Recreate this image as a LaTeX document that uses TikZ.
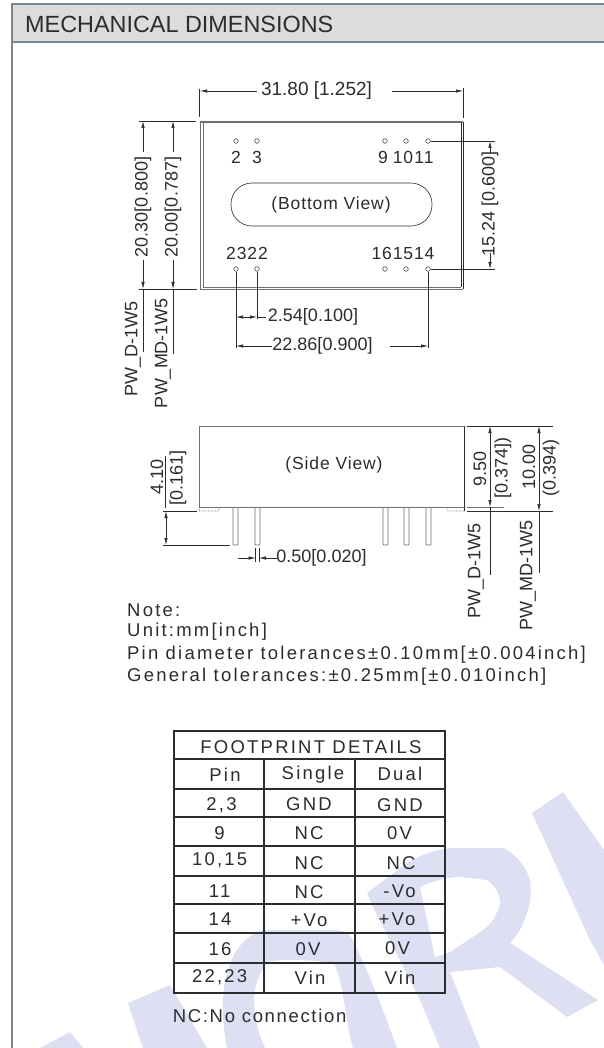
\documentclass[tikz,border=0pt]{standalone}
\usepackage{fontspec}
\setmainfont{Liberation Sans}
\newfontfamily\fontsome[LetterSpace=5]{Liberation Sans}
\newfontfamily\fontwide[LetterSpace=12]{Liberation Sans}
\newfontfamily\fontnine[LetterSpace=9]{Liberation Sans}
\usetikzlibrary{arrows.meta}
\definecolor{ink}{HTML}{2A2D30}
\definecolor{frame}{HTML}{7B858D}
\definecolor{head}{HTML}{DCDCDC}
\definecolor{wm}{HTML}{DFDFF3}
\definecolor{edge}{HTML}{6E7073}
\tikzset{
 x=1pt,y=-1pt,
 dim/.style={draw=ink,line width=0.6pt},
 arr/.style={draw=ink,line width=0.6pt,-{Latex[length=7pt,width=3.4pt]}},
 lab/.style={font=\fontsize{18}{20}\selectfont,text=ink,inner sep=0pt},
 slab/.style={font=\fontsome\fontsize{17.5}{20}\selectfont,text=ink,inner sep=0pt},
 vlab/.style={lab,rotate=90},
 cell/.style={font=\fontwide\fontsize{18.5}{20}\selectfont,text=ink,inner sep=0pt},
 notetext/.style={cell,anchor=west},
 pinhole/.style={circle,draw=ink,line width=0.5pt,minimum size=4.6pt,inner sep=0pt},
 tline/.style={draw=ink,line width=1.1pt},
 wmark/.style={fill=wm,draw=none},
 body/.style={draw=edge,line width=0.8pt},
 pinbody/.style={draw=edge,line width=0.7pt,rounded corners=0.8pt}
}
\begin{document}
\begin{tikzpicture}
\useasboundingbox (0,0) rectangle (604,1048);
\fill[white] (0,0) rectangle (604,1048);
% watermark
\fill[wmark] (532,813) -- (563,792) -- (604,850) -- (604,965) -- (590,940) -- cycle;
\fill[wmark] (367,893) -- (407,863) .. controls (430,850) and (445,848) .. (457,848) -- (503,848) .. controls (518,855) and (526,868) .. (530,880) .. controls (532,895) and (530,905) .. (527,913) .. controls (523,925) and (518,935) .. (510,943) -- (598,1000) -- (567,1017) -- (500,967) -- (450,972) -- (480,1048) -- (440,1048) -- (420,1000) -- (373,907) -- cycle;
\fill[white] (420,887) .. controls (435,880) and (450,877) .. (460,877) -- (487,880) .. controls (497,888) and (500,895) .. (500,903) .. controls (497,915) and (492,923) .. (483,930) -- (450,952) -- (435,957) -- cycle;
\fill[wmark] (227,1048) .. controls (218,1000) and (225,975) .. (233,957) .. controls (240,942) and (255,930) .. (267,930) -- (335,930) .. controls (345,930) and (350,933) .. (355,945) .. controls (370,975) and (385,1015) .. (397,1048) -- (353,1048) .. controls (345,1020) and (345,990) .. (335,965) .. controls (330,960) and (280,958) .. (267,962) .. controls (250,985) and (250,1015) .. (265,1048) -- cycle;
\fill[wmark] (128,1003) -- (170,985) -- (207,1048) -- (143,1048) -- cycle;
\fill[wmark] (40,1048) -- (70,1032) -- (83,1048) -- cycle;
% frame
\fill[head] (12,4) rectangle (604,42);
\draw[frame,line width=1.5pt] (604,4) -- (12,4) -- (12,1048);
\draw[frame,line width=1.5pt] (12,42) -- (604,42);
\node[font=\fontsize{23.4}{26}\selectfont,text=ink,inner sep=0pt,anchor=west] (title) at (25,24) {MECHANICAL DIMENSIONS};
% top view body
\draw[edge,line width=1.7pt] (200,122) -- (463,122);
\draw[body] (200,122) -- (200,289) -- (463,289);
\draw[edge,line width=0.7pt] (203,123) -- (203,287) -- (461,287);
\draw[ink,line width=0.8pt] (463,122) -- (463,289) (461,123) -- (461,287);
\foreach \n/\px/\py in {a/236/141,b/257/141,c/385/141,d/406/141,e/428/141,f/236/269,g/257/269,h/385/269,i/406/269,j/428/269}
  \node[pinhole] (p\n) at (\px,\py) {};
\node[slab] (n2) at (236,157) {2};
\node[slab] (n3) at (257,157) {3};
\node[slab] (n9) at (383,157) {9};
\node[slab] (n10) at (403,157) {10};
\node[slab] (n11) at (424,157) {11};
\node[slab] (n2322) at (247,253) {2322};
\node[slab] (n161514) at (403,253) {161514};
\draw[ink,line width=0.6pt,rounded corners=21pt] (231,183) rectangle (432,226);
\node[slab] (bottom) at (331,205) {(Bottom View)};
% 31.80
\node[lab,font=\fontsize{19}{20}\selectfont] (d3180) at (316.5,91) {31.80 [1.252]};
\coordinate (tl) at (200,91);
\coordinate (tr) at (463,91);
\draw[dim] (199.5,89) -- (199.5,117);
\draw[dim] (463,88) -- (463,118);
\draw[arr] (257,91) -- (tl);
\draw[arr] (392,91) -- (tr);
% left dims
\draw[dim] (139,121) -- (196,121);
\draw[dim] (139,289) -- (197,289);
\draw[arr] (143,152) -- (143,121);
\draw[arr] (173,152) -- (173,121);
\draw[arr] (143,260) -- (143,289);
\draw[arr] (173,260) -- (173,289);
\draw[dim] (143,289) -- (143,352);
\draw[dim] (173,289) -- (173,354);
\node[vlab] (v1) at (143,207) {20.30[0.800]};
\node[vlab] (v2) at (173,207) {20.00[0.787]};
\node[vlab] (v3) at (133,349) {PW\_D-1W5};
\node[vlab] (v4) at (163,353) {PW\_MD-1W5};
% 15.24
\draw[dim] (pe.east) -- (495,141);
\draw[dim] (pj.east) -- (495,269);
\draw[arr] (490,153) -- (490,141);
\draw[arr] (490,253) -- (490,269);
\node[vlab] (v5) at (490,204) {15.24 [0.600]};
% bottom dims
\draw[dim] (pf.south) -- (236,348);
\draw[dim] (pg.south) -- (257,319);
\draw[dim] (pj.south) -- (428,348);
\draw[arr] (250,317) -- (236,317);
\draw[arr] (243,317) -- (257,317);
\draw[dim] (257,317) -- (266,317);
\node[lab] (d254) at (313,317) {2.54[0.100]};
\draw[arr] (272,346) -- (236,346);
\draw[arr] (390,346) -- (428,346);
\node[lab] (d2286) at (322.5,346) {22.86[0.900]};
% side view
\draw[body] (199.5,507) -- (199.5,426) -- (464,426);
\draw[ink,line width=0.8pt] (464,426) -- (464,511);
\draw[edge,line width=1pt] (199.5,507) -- (464,507);
\draw[body,densely dotted,line width=0.6pt] (199.5,507) -- (199.5,511) -- (218,511) -- (220,507);
\draw[body,densely dotted,line width=0.6pt] (446,507) -- (448,511) -- (464,511);
\foreach \pa/\pb in {233/238,255/260,383/388,404/409,426/431}
  \draw[pinbody] (\pa,507) -- (\pa,545) -- (\pb,545) -- (\pb,507);
\node[slab] (side) at (334,465) {(Side View)};
% 4.10
\draw[dim] (163,511) -- (197,511);
\draw[dim] (163,545) -- (230,545);
\draw[arr] (166,528) -- (166,511);
\draw[arr] (166,528) -- (166,545);
\draw[dim] (165,456) -- (165,508);
\node[vlab] (v6) at (157,477) {4.10};
\node[vlab] (v7) at (178,478) {[0.161]};
% 0.50
\draw[dim] (255.7,548) -- (255.7,562);
\draw[dim] (259,548) -- (259,562);
\draw[arr] (238,558) -- (255.7,558);
\draw[arr] (277,558) -- (259,558);
\node[lab] (d050) at (321.5,558) {0.50[0.020]};
% right dims
\draw[dim] (467,426) -- (553,426);
\draw[dim] (467,511) -- (553,511);
\draw[draw=edge,line width=0.7pt] (467,507) -- (504,507);
\draw[arr] (490,465) -- (490,426);
\draw[arr] (490,465) -- (490,507);
\draw[dim] (490,507) -- (490,575);
\draw[arr] (539,465) -- (539,426);
\draw[arr] (539,465) -- (539,511);
\draw[dim] (539,511) -- (539,573);
\node[vlab] (v8) at (480,469) {9.50};
\node[vlab] (v9) at (503,468) {[0.374])};
\node[vlab] (v10) at (529,467) {10.00};
\node[vlab] (v11) at (551,468) {(0.394)};
\node[vlab] (v12) at (476,571) {PW\_D-1W5};
\node[vlab] (v13) at (528,575) {PW\_MD-1W5};
% notes
\node[notetext] (nt1) at (127,610) {Note:};
\node[notetext] (nt2) at (127,632) {Unit:mm[inch]};
\node[notetext] (nt3) at (127,655) {Pin diameter tolerances±0.10mm[±0.004inch]};
\node[notetext] (nt4) at (127,677) {General tolerances:±0.25mm[±0.010inch]};
% table
\draw[tline] (174,731) rectangle (445,993);
\foreach \ty in {759,789,817,846,876,904,933,963}
  \draw[tline] (174,\ty) -- (445,\ty);
\draw[tline] (264,759) -- (264,993);
\draw[tline] (355,759) -- (355,993);
\node[cell] (t0) at (311,747) {FOOTPRINT DETAILS};
\foreach \nm/\tx/\ty/\tt in {
 a1/225/775/Pin,a2/313/775/Single,a3/400/774/Dual,
 b1/221.5/805/{2,3},b2/309/804/GND,b3/400/805/GND,
 c1/219.6/833/9,c2/309/833/NC,c3/399.5/833/0V,
 d1/219.6/860/{10,15},d2/309/863/NC,d3/401/863/NC,
 e1/219.6/891/11,e2/309/892/NC,e3/399.5/891/-Vo,
 f1/220/919/14,f2/309/920/+Vo,f3/397/919/+Vo,
 g1/220/949/16,g2/308/949/0V,g3/397.5/948/0V,
 h1/219.6/977/{22,23},h2/310/978/Vin,h3/400/978/Vin}
  \node[cell] (t\nm) at (\tx,\ty) {\tt};
\node[font=\fontnine\fontsize{18.5}{20}\selectfont,text=ink,inner sep=0pt,anchor=west] (ncnote) at (172.7,1016) {NC:No connection};
\end{tikzpicture}
\end{document}
